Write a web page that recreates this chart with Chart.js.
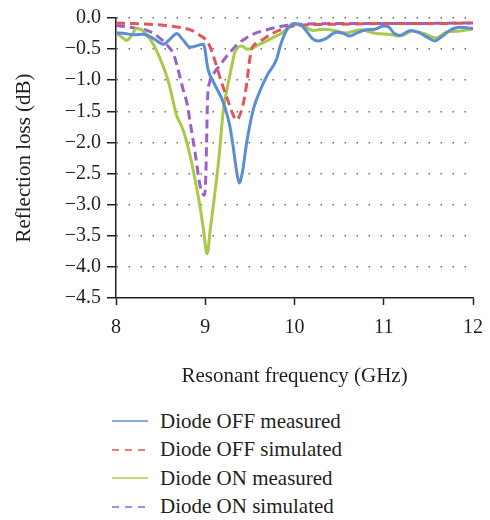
<!DOCTYPE html>
<html>
<head>
<meta charset="utf-8">
<script src="https://cdn.jsdelivr.net/npm/chart.js@4"></script>
<style>
  body { margin: 0; background: #fff; }
  #wrap { position: relative; width: 490px; height: 520px; }
  #box { position: absolute; left: 0; top: 0; width: 490px; height: 390px; }
  #legend { position: absolute; left: 112px; top: 407px; font-family: "Liberation Serif", serif; font-size: 21px; color: #231f20; }
  .item { display: flex; align-items: center; height: 28.5px; }
  .item svg { margin-right: 12px; }
</style>
</head>
<body>
<div id="wrap">
  <div id="box"><canvas id="chart"></canvas></div>
  <div id="legend"></div>
</div>
<script>
// Reflection loss vs frequency — four curves

const xTicks = [8, 9, 10, 11, 12];

const offMeasFreq = [8.0, 8.1, 8.2, 8.3, 8.42, 8.53, 8.62, 8.68, 8.75, 8.83, 8.92, 8.98, 9.03, 9.1, 9.2, 9.27, 9.31, 9.35, 9.38, 9.42, 9.46, 9.54, 9.62, 9.69, 9.8, 9.84, 9.91, 9.97, 10.0, 10.08, 10.14, 10.2, 10.27, 10.35, 10.47, 10.55, 10.62, 10.7, 10.8, 10.9, 11.0, 11.05, 11.12, 11.18, 11.3, 11.4, 11.5, 11.57, 11.64, 11.74, 11.85, 12.0];
const offMeasLoss = [-0.24, -0.25, -0.27, -0.26, -0.33, -0.42, -0.32, -0.25, -0.35, -0.47, -0.44, -0.42, -0.82, -1.05, -1.35, -1.7, -2.04, -2.45, -2.65, -2.45, -2.04, -1.46, -1.15, -0.93, -0.66, -0.45, -0.2, -0.1, -0.09, -0.12, -0.22, -0.33, -0.37, -0.33, -0.23, -0.25, -0.29, -0.24, -0.19, -0.18, -0.13, -0.14, -0.25, -0.28, -0.2, -0.24, -0.32, -0.37, -0.31, -0.2, -0.15, -0.17];

const offSimFreq = [8.0, 8.2, 8.37, 8.55, 8.75, 8.85, 8.93, 9.0, 9.05, 9.1, 9.16, 9.21, 9.26, 9.31, 9.35, 9.39, 9.43, 9.46, 9.48, 9.5, 9.52, 9.58, 9.65, 9.75, 9.84, 9.93, 10.03, 10.5, 11.0, 11.5, 12.0];
const offSimLoss = [-0.08, -0.09, -0.1, -0.12, -0.16, -0.2, -0.27, -0.34, -0.45, -0.65, -0.93, -1.15, -1.35, -1.55, -1.64, -1.55, -1.35, -1.1, -0.87, -0.65, -0.5, -0.4, -0.34, -0.25, -0.19, -0.15, -0.12, -0.1, -0.09, -0.09, -0.08];

const onMeasFreq = [8.0, 8.06, 8.12, 8.18, 8.23, 8.3, 8.4, 8.49, 8.56, 8.6, 8.65, 8.68, 8.73, 8.77, 8.82, 8.88, 8.94, 8.98, 9.02, 9.06, 9.09, 9.13, 9.16, 9.2, 9.26, 9.3, 9.33, 9.37, 9.41, 9.47, 9.52, 9.6, 9.69, 9.78, 9.86, 9.93, 10.0, 10.1, 10.21, 10.32, 10.45, 10.58, 10.73, 10.92, 11.05, 11.18, 11.33, 11.45, 11.59, 11.7, 11.85, 12.0];
const onMeasLoss = [-0.24, -0.3, -0.36, -0.27, -0.17, -0.2, -0.38, -0.64, -0.9, -1.09, -1.4, -1.57, -1.72, -1.88, -2.15, -2.55, -3.02, -3.4, -3.79, -3.35, -3.02, -2.55, -2.15, -1.51, -1.03, -0.75, -0.56, -0.47, -0.45, -0.5, -0.49, -0.43, -0.37, -0.3, -0.24, -0.15, -0.1, -0.13, -0.2, -0.18, -0.2, -0.24, -0.19, -0.25, -0.26, -0.29, -0.21, -0.25, -0.32, -0.23, -0.21, -0.18];

const onSimFreq = [8.0, 8.2, 8.37, 8.47, 8.55, 8.65, 8.7, 8.75, 8.8, 8.83, 8.89, 8.94, 8.97, 8.99, 9.005, 9.015, 9.025, 9.05, 9.1, 9.16, 9.23, 9.31, 9.38, 9.46, 9.57, 9.69, 9.8, 9.91, 10.1, 10.5, 11.0, 12.0];
const onSimLoss = [-0.12, -0.16, -0.21, -0.3, -0.4, -0.6, -0.85, -1.14, -1.4, -1.67, -2.2, -2.68, -2.82, -2.85, -2.6, -2.0, -1.35, -1.03, -0.88, -0.77, -0.63, -0.5, -0.4, -0.32, -0.24, -0.19, -0.15, -0.12, -0.1, -0.09, -0.09, -0.08];

const seriesNames = ['Diode OFF measured', 'Diode OFF simulated', 'Diode ON measured', 'Diode ON simulated'];
const seriesColors = ['#5b8dd6', '#e0565a', '#a9c94b', '#9a62c9'];

const serif = "'Liberation Serif', serif";
const ink = '#231f20';

function pts(xs, ys) {
    return xs.map((x, i) => ({ x, y: ys[i] }));
}

const series = [
    { data: pts(offMeasFreq, offMeasLoss), dash: [] },
    { data: pts(offSimFreq, offSimLoss), dash: [9, 5] },
    { data: pts(onMeasFreq, onMeasLoss), dash: [] },
    { data: pts(onSimFreq, onSimLoss), dash: [9, 5] }
];

const datasets = series.map((s, i) => ({
    label: seriesNames[i],
    data: s.data,
    borderColor: seriesColors[i],
    borderWidth: 3,
    borderDash: s.dash,
    pointRadius: 0,
    cubicInterpolationMode: 'monotone',
    fill: false
}));

new Chart(document.getElementById('chart'), {
    type: 'line',
    data: { datasets },
    options: {
        responsive: true,
        maintainAspectRatio: false,
        animation: false,
        layout: { padding: { top: 15, right: 17, left: 0, bottom: 1 } },
        scales: {
            x: {
                type: 'linear',
                min: 8,
                max: 12,
                afterBuildTicks: (scale) => { scale.ticks = xTicks.map(v => ({ value: v })); },
                afterFit: (scale) => {
                    scale.height = 91;
                    scale.paddingLeft = 0;
                    scale.paddingRight = 0;
                },
                border: { display: true, color: ink, width: 1.5 },
                grid: { drawOnChartArea: false, drawTicks: true, tickLength: 7, tickColor: ink, tickWidth: 1.5 },
                ticks: { font: { family: serif, size: 20 }, color: ink, padding: 11, maxRotation: 0 },
                title: { display: true, text: 'Resonant frequency (GHz)', font: { family: serif, size: 21 }, color: ink, padding: { top: 0, bottom: 0 } }
            },
            y: {
                min: -4.5,
                max: 0,
                afterFit: (scale) => { scale.width = 116; },
                border: { display: true, color: ink, width: 1.5, dash: [1.5, 10.5] },
                grid: {
                    color: (c) => c.tick && c.tick.value === -4.5 ? 'rgba(0,0,0,0)' : '#6d6d6d',
                    lineWidth: 1.5,
                    drawTicks: true,
                    tickLength: 9,
                    tickColor: ink,
                    tickWidth: 1.5
                },
                ticks: {
                    stepSize: 0.5,
                    font: { family: serif, size: 20 },
                    color: ink,
                    padding: 6,
                    callback: (v) => v.toFixed(1).replace('-', '\u2212')
                },
                title: { display: true, text: 'Reflection loss (dB)', font: { family: serif, size: 21 }, color: ink, padding: { top: 12, bottom: 0 } }
            }
        },
        plugins: {
            legend: { display: false },
            tooltip: { enabled: false }
        }
    }
});

// legend below the chart, one entry per row
const legendEl = document.getElementById('legend');
datasets.forEach((ds) => {
    const row = document.createElement('div');
    row.className = 'item';
    const dash = ds.borderDash.length ? 'stroke-dasharray="7 6"' : '';
    row.innerHTML = `<svg width="36" height="4"><line x1="0" y1="2" x2="36" y2="2" stroke="${ds.borderColor}" stroke-width="2" stroke-opacity="0.75" ${dash}/></svg><span>${ds.label}</span>`;
    legendEl.appendChild(row);
});
</script>
</body>
</html>
